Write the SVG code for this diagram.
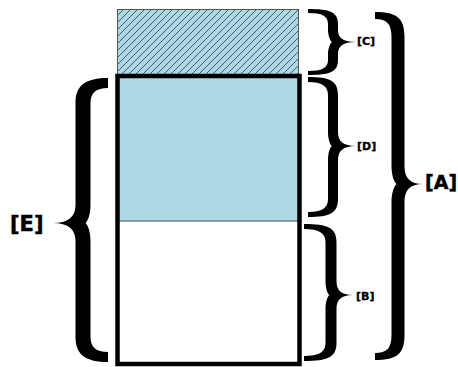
<svg xmlns="http://www.w3.org/2000/svg" width="458" height="367" viewBox="0 0 458 367">
  <defs>
    <pattern id="hatch" patternUnits="userSpaceOnUse" x="0" y="0" width="7" height="7">
      <rect width="7" height="7" fill="#ADD8E6"/>
      <path d="M-1,1 L1,-1 M0,7 L7,0 M6,8 L8,6" stroke="#2b3a40" stroke-width="0.8"/>
    </pattern>
  </defs>
  <style>
    .brace { fill: #000; stroke: none; }
    .lbl { font-family: "DejaVu Sans", "Liberation Sans", sans-serif; font-weight: bold; fill: #000; stroke: #000; stroke-width: 0.5; }
    .sm { font-size: 11px; stroke-width: 0.35; }
  </style>
  <rect width="458" height="367" fill="#fff"/>

  <g id="part-c">
    <rect x="117.5" y="9.5" width="181" height="65" fill="url(#hatch)" stroke="#555" stroke-width="1"/>
  </g>

  <g id="part-main">
    <rect x="117.5" y="76" width="182" height="145" fill="#ADD8E6"/>
    <rect x="117.5" y="221" width="182" height="143" fill="#fff"/>
    <line x1="117.5" y1="221" x2="299.5" y2="221" stroke="#6f7f85" stroke-width="1.5"/>
    <rect x="117.5" y="76" width="182" height="288" fill="none" stroke="#000" stroke-width="4.5"/>
  </g>

  <g id="braces">
    <g id="brace-c">
      <path class="brace" d="M 308,9 C 330,9 338,12 338,24 L 338,30 C 338,37.8 343,42 356,42 C 343,42 338,46.2 338,54 L 338,60 C 338,72 330,75 308,75 L 308,71 C 322,71 328,68 328,60 L 328,54 C 328,49 330,43 332,42 C 330,41 328,35 328,30 L 328,24 C 328,16 322,13 308,13 Z"/>
      <text class="lbl sm" x="357" y="44.5">[C]</text>
    </g>
    <g id="brace-d">
      <path class="brace" d="M 308,77 C 330,77 338,81 338,95 L 338,132 C 338,141 343,146 356,146 C 343,146 338,151 338,160 L 338,199 C 338,213 330,217 308,217 L 308,212 C 322,212 328,208 328,199 L 328,160 C 328,153 330,147 332,146 C 330,145 328,139 328,132 L 328,95 C 328,86 322,82 308,82 Z"/>
      <text class="lbl sm" x="357" y="150">[D]</text>
    </g>
    <g id="brace-b">
      <path class="brace" d="M 304,224 C 328,224 336.5,228 336.5,242 L 336.5,281 C 336.5,290 341,295 353,295 C 341,295 336.5,300 336.5,309 L 336.5,343 C 336.5,357 328,361 304,361 L 304,356 C 319,356 325.5,352 325.5,343 L 325.5,309 C 325.5,302 327.5,296 329.5,295 C 327.5,294 325.5,288 325.5,281 L 325.5,242 C 325.5,233 319,229 304,229 Z"/>
      <text class="lbl sm" x="356" y="300">[B]</text>
    </g>
    <g id="brace-a">
      <path class="brace" d="M 375,12 C 397,12 404.5,18 404.5,37 L 404.5,166 C 404.5,178 410,184 423,184 C 410,184 404.5,190 404.5,202 L 404.5,335 C 404.5,354 397,360 375,360 L 375,353 C 387,353 391.5,348 391.5,335 L 391.5,202 C 391.5,193 394,186 396.5,184 C 394,182 391.5,175 391.5,166 L 391.5,37 C 391.5,24 387,19 375,19 Z"/>
      <text class="lbl" x="425" y="189" font-size="19">[A]</text>
    </g>
    <g id="brace-e">
      <path class="brace" d="M 108,78 C 86,78 75.5,85 75.5,103 L 75.5,205 C 75.5,217 68,223 53,223 C 68,223 75.5,229 75.5,241 L 75.5,337 C 75.5,355 86,362 108,362 L 108,352 C 96,352 90.5,347 90.5,337 L 90.5,241 C 90.5,232 88,225 85.5,223 C 88,221 90.5,214 90.5,205 L 90.5,103 C 90.5,93 96,88 108,88 Z"/>
      <text class="lbl" x="10" y="231" font-size="21">[E]</text>
    </g>
  </g>
</svg>
